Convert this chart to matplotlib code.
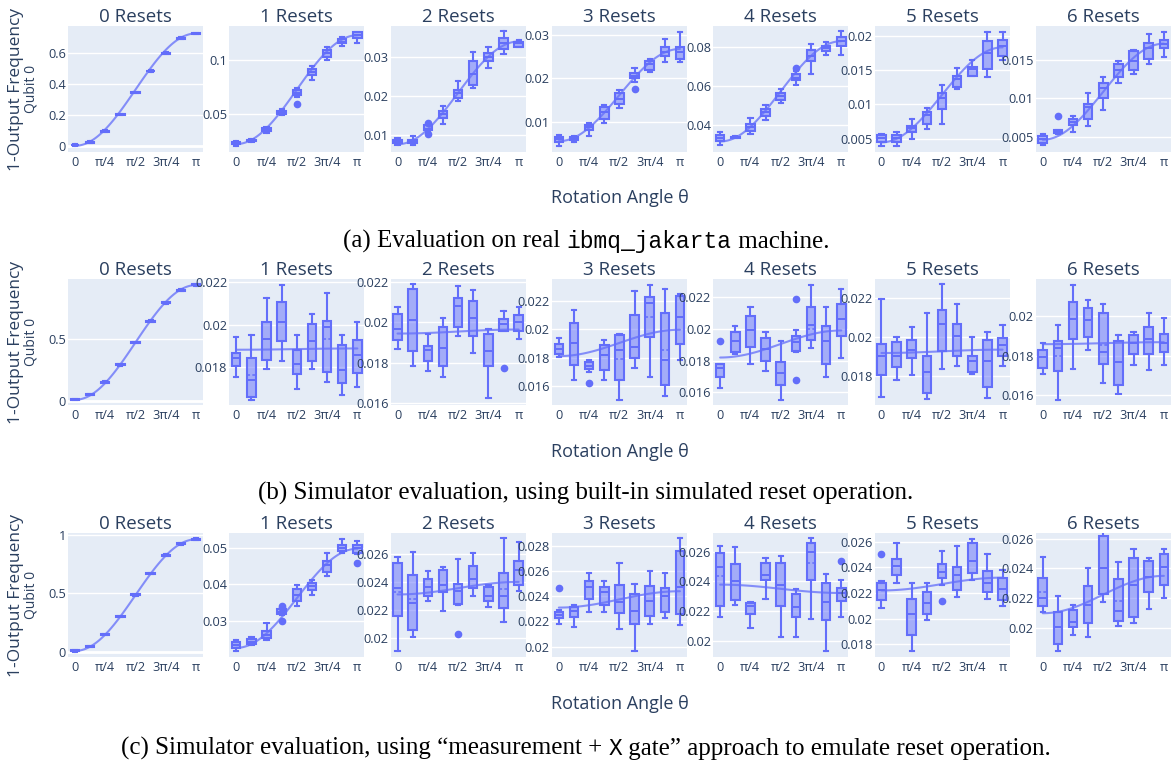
import numpy as np
import matplotlib
matplotlib.use("Agg")
import matplotlib.pyplot as plt

W, H = 1174, 764
BLUE = "#636efa"
INK = "#2a3f5f"
BG = "#e5ecf6"
FONT = "Open Sans"

ANGLES = np.arange(9) * np.pi / 8
XTICKS = [0, np.pi / 4, np.pi / 2, 3 * np.pi / 4, np.pi]
XTICK_LABELS = ["0", "π/4", "π/2", "3π/4", "π"]
RESETS = list(range(7))

# ---------------- (a) real ibmq_jakarta ----------------
A_MED = [[0.005, 0.024, 0.095, 0.202, 0.344, 0.484, 0.600, 0.697, 0.727],
         [0.0236, 0.0258, 0.0358, 0.0515, 0.0690, 0.0888, 0.1060, 0.1167, 0.1227],
         [0.0081, 0.0081, 0.0114, 0.0153, 0.0206, 0.0255, 0.0300, 0.0336, 0.0335],
         [0.0060, 0.0060, 0.0087, 0.0122, 0.0153, 0.0206, 0.0233, 0.0262, 0.0260],
         [0.0332, 0.0336, 0.0388, 0.0464, 0.0549, 0.0642, 0.0753, 0.0795, 0.0829],
         [0.0051, 0.0052, 0.0066, 0.0085, 0.0110, 0.0137, 0.0151, 0.0175, 0.0185],
         [0.0047, 0.0056, 0.0069, 0.0088, 0.0113, 0.0137, 0.0148, 0.0165, 0.0171]]
A_Q1 = [[0.003, 0.021, 0.092, 0.199, 0.341, 0.481, 0.597, 0.694, 0.724],
        [0.0225, 0.0250, 0.0345, 0.0500, 0.0675, 0.0864, 0.1024, 0.1150, 0.1197],
        [0.0077, 0.0077, 0.0111, 0.0142, 0.0195, 0.0229, 0.0289, 0.0320, 0.0327],
        [0.0054, 0.0057, 0.0080, 0.0107, 0.0140, 0.0201, 0.0220, 0.0252, 0.0244],
        [0.0315, 0.0333, 0.0371, 0.0444, 0.0529, 0.0629, 0.0727, 0.0778, 0.0803],
        [0.0046, 0.0046, 0.0060, 0.0072, 0.0094, 0.0126, 0.0142, 0.0151, 0.0171],
        [0.0042, 0.0055, 0.0065, 0.0073, 0.0100, 0.0128, 0.0137, 0.0151, 0.0165]]
A_Q3 = [[0.008, 0.027, 0.098, 0.205, 0.347, 0.487, 0.603, 0.700, 0.730],
        [0.0245, 0.0265, 0.0370, 0.0530, 0.0720, 0.0918, 0.1091, 0.1190, 0.1252],
        [0.0086, 0.0086, 0.0124, 0.0161, 0.0215, 0.0289, 0.0310, 0.0348, 0.0340],
        [0.0064, 0.0064, 0.0092, 0.0134, 0.0167, 0.0212, 0.0241, 0.0273, 0.0273],
        [0.0346, 0.0340, 0.0405, 0.0481, 0.0566, 0.0659, 0.0786, 0.0807, 0.0851],
        [0.0055, 0.0056, 0.0069, 0.0089, 0.0116, 0.0142, 0.0155, 0.0192, 0.0194],
        [0.0051, 0.0058, 0.0073, 0.0092, 0.0120, 0.0144, 0.0161, 0.0172, 0.0176]]
A_LO = [[0.001, 0.019, 0.090, 0.197, 0.339, 0.479, 0.595, 0.692, 0.722],
        [0.0210, 0.0245, 0.0330, 0.0490, 0.0660, 0.0812, 0.0994, 0.1130, 0.1152],
        [0.0072, 0.0074, 0.0106, 0.0128, 0.0187, 0.0221, 0.0272, 0.0308, 0.0325],
        [0.0045, 0.0054, 0.0067, 0.0098, 0.0131, 0.0191, 0.0214, 0.0237, 0.0238],
        [0.0295, 0.0331, 0.0354, 0.0427, 0.0512, 0.0605, 0.0664, 0.0761, 0.0761],
        [0.0040, 0.0040, 0.0050, 0.0065, 0.0072, 0.0123, 0.0141, 0.0140, 0.0165],
        [0.0039, 0.0054, 0.0056, 0.0064, 0.0085, 0.0120, 0.0132, 0.0144, 0.0154]]
A_HI = [[0.009, 0.029, 0.100, 0.207, 0.349, 0.489, 0.605, 0.702, 0.732],
        [0.0255, 0.0275, 0.0385, 0.0550, 0.0740, 0.0940, 0.1121, 0.1210, 0.1258],
        [0.0090, 0.0095, 0.0127, 0.0174, 0.0238, 0.0314, 0.0327, 0.0366, 0.0345],
        [0.0069, 0.0066, 0.0098, 0.0138, 0.0174, 0.0225, 0.0244, 0.0290, 0.0308],
        [0.0366, 0.0343, 0.0434, 0.0502, 0.0583, 0.0676, 0.0817, 0.0824, 0.0880],
        [0.0057, 0.0060, 0.0079, 0.0095, 0.0129, 0.0153, 0.0165, 0.0206, 0.0206],
        [0.0053, 0.0059, 0.0077, 0.0107, 0.0128, 0.0148, 0.0163, 0.0184, 0.0186]]
A_OUT = {1: {4: [0.0597]}, 2: {2: [0.0131, 0.0102]}, 3: {5: [0.0176]},
         4: {5: [0.0690]}, 6: {1: [0.0077]}}
A_MEAN = {}
A_FIT = [(0.0, 0.727), (0.0225, 0.1225), (0.0075, 0.0340), (0.0055, 0.0268),
         (0.0315, 0.0830), (0.0045, 0.0183), (0.0046, 0.0171)]

# ---------------- (b) simulator, built-in reset ----------------
B_MED = [[0.013, 0.053, 0.151, 0.293, 0.471, 0.644, 0.793, 0.894, 0.936],
         [0.01844, 0.01739, 0.01933, 0.02014, 0.01816, 0.01925, 0.01988, 0.01788, 0.01855],
         [0.01967, 0.02013, 0.01862, 0.01873, 0.02081, 0.02024, 0.01857, 0.01992, 0.02000],
         [0.01865, 0.01905, 0.01742, 0.01819, 0.01853, 0.01877, 0.02184, 0.01784, 0.02086],
         [0.01750, 0.01923, 0.01990, 0.01875, 0.01723, 0.01917, 0.02027, 0.01923, 0.02063],
         [0.01903, 0.01906, 0.01933, 0.01822, 0.02067, 0.02007, 0.01877, 0.01877, 0.01961],
         [0.01795, 0.01837, 0.01988, 0.01980, 0.01820, 0.01765, 0.01866, 0.01882, 0.01866]]
B_Q1 = [[0.009, 0.049, 0.147, 0.289, 0.467, 0.640, 0.789, 0.890, 0.932],
        [0.01804, 0.01658, 0.01835, 0.01925, 0.01767, 0.01829, 0.01777, 0.01723, 0.01773],
        [0.01915, 0.01857, 0.01808, 0.01785, 0.01980, 0.01932, 0.01785, 0.01959, 0.01959],
        [0.01826, 0.01749, 0.01719, 0.01714, 0.01644, 0.01802, 0.01947, 0.01609, 0.01900],
        [0.01698, 0.01854, 0.01885, 0.01800, 0.01646, 0.01860, 0.01927, 0.01781, 0.01952],
        [0.01805, 0.01849, 0.01894, 0.01714, 0.01928, 0.01906, 0.01822, 0.01748, 0.01903],
        [0.01736, 0.01719, 0.01882, 0.01896, 0.01758, 0.01652, 0.01808, 0.01808, 0.01820]]
B_Q3 = [[0.017, 0.057, 0.155, 0.297, 0.475, 0.648, 0.797, 0.898, 0.940],
        [0.01868, 0.01843, 0.02011, 0.02109, 0.01883, 0.02003, 0.02019, 0.01902, 0.01928],
        [0.02040, 0.02166, 0.01883, 0.01980, 0.02122, 0.02106, 0.01943, 0.02016, 0.02036],
        [0.01895, 0.02044, 0.01772, 0.01888, 0.01958, 0.02105, 0.02230, 0.02114, 0.02237],
        [0.01781, 0.01979, 0.02083, 0.01944, 0.01792, 0.01952, 0.02135, 0.02015, 0.02160],
        [0.01966, 0.01973, 0.01983, 0.01906, 0.02138, 0.02067, 0.01906, 0.01987, 0.01995],
        [0.01829, 0.01876, 0.02072, 0.02044, 0.02017, 0.01876, 0.01904, 0.01943, 0.01909]]
B_LO = [[0.006, 0.046, 0.144, 0.286, 0.464, 0.637, 0.786, 0.887, 0.929],
        [0.01754, 0.01645, 0.01793, 0.01827, 0.01695, 0.01793, 0.01731, 0.01668, 0.01707],
        [0.01870, 0.01785, 0.01759, 0.01727, 0.01935, 0.01846, 0.01626, 0.01959, 0.01919],
        [0.01807, 0.01640, 0.01702, 0.01644, 0.01505, 0.01726, 0.01663, 0.01528, 0.01788],
        [0.01625, 0.01844, 0.01781, 0.01735, 0.01552, 0.01855, 0.01881, 0.01698, 0.01813],
        [0.01697, 0.01782, 0.01805, 0.01684, 0.01839, 0.01852, 0.01810, 0.01692, 0.01852],
        [0.01708, 0.01576, 0.01731, 0.01829, 0.01660, 0.01602, 0.01753, 0.01724, 0.01753]]
B_HI = [[0.020, 0.060, 0.158, 0.300, 0.478, 0.651, 0.800, 0.901, 0.943],
        [0.01941, 0.01952, 0.02125, 0.02187, 0.01952, 0.02053, 0.02151, 0.01952, 0.02014],
        [0.02078, 0.02192, 0.01943, 0.02020, 0.02179, 0.02163, 0.01967, 0.02057, 0.02078],
        [0.01942, 0.02137, 0.01784, 0.01928, 0.01970, 0.02272, 0.02314, 0.02284, 0.02249],
        [0.01781, 0.02015, 0.02140, 0.01979, 0.01923, 0.01990, 0.02277, 0.02140, 0.02250],
        [0.02192, 0.02000, 0.02050, 0.02124, 0.02269, 0.02171, 0.02000, 0.02024, 0.02062],
        [0.01866, 0.01955, 0.02161, 0.02084, 0.02064, 0.01904, 0.01921, 0.02017, 0.01993]]
B_OUT = {2: {7: [0.01776]}, 3: {2: [0.01621]}, 4: {0: [0.01923], 5: [0.02188, 0.01677]}}
B_MEAN = {1: {1: 0.01762, 6: 0.01933}, 3: {4: 0.01795, 6: 0.02086, 7: 0.01853},
          4: {6: 0.0200}, 6: {1: 0.01798, 4: 0.01854}}
B_FIT = [(0.010, 0.935), (0.01882, 0.01888), (0.01945, 0.01965), (0.01812, 0.01998),
         (0.01819, 0.01990), (0.01919, 0.01936), (0.01858, 0.01868)]

# ---------------- (c) simulator, measurement + X gate ----------------
C_MED = [[0.006, 0.042, 0.147, 0.300, 0.486, 0.667, 0.825, 0.922, 0.961],
         [0.0233, 0.0242, 0.0261, 0.0324, 0.0371, 0.0395, 0.0451, 0.0500, 0.0498],
         [0.02353, 0.02251, 0.02360, 0.02377, 0.02337, 0.02423, 0.02302, 0.02302, 0.02484],
         [0.02250, 0.02281, 0.02477, 0.02431, 0.02354, 0.02281, 0.02366, 0.02400, 0.02470],
         [0.02498, 0.02400, 0.02233, 0.02443, 0.02378, 0.02226, 0.02596, 0.02259, 0.02324],
         [0.02220, 0.02408, 0.02035, 0.02124, 0.02365, 0.02339, 0.02453, 0.02276, 0.02230],
         [0.02200, 0.02011, 0.02039, 0.02157, 0.02402, 0.02113, 0.02287, 0.02343, 0.02409]]
C_Q1 = [[0.002, 0.038, 0.143, 0.296, 0.482, 0.663, 0.821, 0.918, 0.957],
        [0.0224, 0.0235, 0.0251, 0.0317, 0.0353, 0.0384, 0.0433, 0.0491, 0.0486],
        [0.02157, 0.02057, 0.02302, 0.02325, 0.02244, 0.02353, 0.02260, 0.02213, 0.02377],
        [0.02225, 0.02237, 0.02379, 0.02333, 0.02263, 0.02178, 0.02245, 0.02271, 0.02255],
        [0.02233, 0.02276, 0.02183, 0.02407, 0.02237, 0.02161, 0.02411, 0.02139, 0.02270],
        [0.02149, 0.02339, 0.01876, 0.02035, 0.02314, 0.02220, 0.02357, 0.02205, 0.02149],
        [0.02148, 0.01891, 0.02011, 0.02033, 0.02228, 0.02048, 0.02076, 0.02243, 0.02287]]
C_Q3 = [[0.010, 0.046, 0.151, 0.304, 0.490, 0.671, 0.829, 0.926, 0.965],
        [0.0240, 0.0249, 0.0270, 0.0331, 0.0386, 0.0404, 0.0464, 0.0508, 0.0508],
        [0.02535, 0.02447, 0.02419, 0.02484, 0.02384, 0.02512, 0.02360, 0.02461, 0.02554],
        [0.02271, 0.02315, 0.02521, 0.02470, 0.02488, 0.02418, 0.02483, 0.02462, 0.02761],
        [0.02589, 0.02515, 0.02254, 0.02524, 0.02520, 0.02313, 0.02654, 0.02389, 0.02357],
        [0.02281, 0.02466, 0.02154, 0.02205, 0.02423, 0.02403, 0.02592, 0.02372, 0.02314],
        [0.02337, 0.02109, 0.02120, 0.02283, 0.02617, 0.02330, 0.02467, 0.02452, 0.02496]]
C_LO = [[0.000, 0.035, 0.140, 0.293, 0.479, 0.660, 0.818, 0.915, 0.954],
        [0.0217, 0.0233, 0.0246, 0.0315, 0.0341, 0.0371, 0.0421, 0.0484, 0.0482],
        [0.01905, 0.02003, 0.02260, 0.02190, 0.02237, 0.02297, 0.02220, 0.02111, 0.02337],
        [0.02178, 0.02152, 0.02271, 0.02276, 0.02142, 0.01966, 0.02178, 0.02230, 0.02168],
        [0.02161, 0.02241, 0.02089, 0.02280, 0.02030, 0.02030, 0.02150, 0.01933, 0.02161],
        [0.02086, 0.02281, 0.01749, 0.01992, 0.02263, 0.02170, 0.02301, 0.02154, 0.02099],
        [0.02109, 0.01848, 0.01952, 0.01939, 0.02174, 0.02017, 0.02033, 0.02126, 0.02200]]
C_HI = [[0.013, 0.049, 0.154, 0.307, 0.493, 0.674, 0.832, 0.929, 0.968],
        [0.0246, 0.0255, 0.0293, 0.0333, 0.0397, 0.0411, 0.0486, 0.0524, 0.0517],
        [0.02582, 0.02617, 0.02477, 0.02507, 0.02563, 0.02605, 0.02377, 0.02717, 0.02687],
        [0.02289, 0.02333, 0.02586, 0.02521, 0.02668, 0.02495, 0.02599, 0.02586, 0.02865],
        [0.02639, 0.02628, 0.02263, 0.02559, 0.02567, 0.02350, 0.02689, 0.02450, 0.02411],
        [0.02296, 0.02592, 0.02276, 0.02276, 0.02529, 0.02567, 0.02625, 0.02504, 0.02377],
        [0.02474, 0.02217, 0.02152, 0.02402, 0.02704, 0.02446, 0.02533, 0.02467, 0.02533]]
C_OUT = {1: {3: [0.0341, 0.0335, 0.0300], 8: [0.0457]}, 2: {4: [0.02022]},
         3: {0: [0.02462]}, 4: {8: [0.02537]}, 5: {0: [0.02504], 4: [0.02137]}}
C_MEAN = {2: {0: 0.02325, 1: 0.0228, 7: 0.02349}, 4: {0: 0.02433, 6: 0.02524},
          6: {0: 0.02243, 5: 0.02185}}
C_FIT = [(0.005, 0.960), (0.0225, 0.0497), (0.0231, 0.0240), (0.0231, 0.0244),
         (0.02378, 0.02322), (0.0222, 0.0232), (0.0210, 0.0235)]

# axis ranges / ticks per panel
A_YLIM = [(-0.04, 0.775), (0.0152, 0.131), (0.0055, 0.038), (0.0030, 0.0321),
          (0.0261, 0.0908), (0.0031, 0.0214), (0.0030, 0.0194)]
A_YTICKS = [[0, 0.2, 0.4, 0.6], [0.05, 0.1], [0.01, 0.02, 0.03], [0.01, 0.02, 0.03],
            [0.04, 0.06, 0.08], [0.005, 0.01, 0.015, 0.02], [0.005, 0.01, 0.015]]
B_YLIM = [(-0.032, 0.984), (0.01621, 0.02216), (0.01590, 0.02216), (0.01467, 0.02356),
          (0.01519, 0.02315), (0.01654, 0.02296), (0.01548, 0.0219)]
B_YTICKS = [[0, 0.5], [0.018, 0.02, 0.022], [0.016, 0.018, 0.02, 0.022],
            [0.016, 0.018, 0.02, 0.022], [0.016, 0.018, 0.02, 0.022],
            [0.018, 0.02, 0.022], [0.016, 0.018, 0.02]]
C_YLIM = [(-0.047, 1.014), (0.020, 0.054), (0.0186, 0.02752), (0.01917, 0.02903),
          (0.01893, 0.02724), (0.01701, 0.02668), (0.01807, 0.02637)]
C_YTICKS = [[0, 0.5, 1], [0.03, 0.04, 0.05], [0.02, 0.022, 0.024, 0.026],
            [0.02, 0.022, 0.024, 0.026, 0.028], [0.02, 0.022, 0.024, 0.026],
            [0.018, 0.02, 0.022, 0.024, 0.026], [0.02, 0.022, 0.024, 0.026]]

ROWS = [
    dict(med=A_MED, q1=A_Q1, q3=A_Q3, lo=A_LO, hi=A_HI, out=A_OUT, mean=A_MEAN, fit=A_FIT,
         ylim=A_YLIM, yticks=A_YTICKS, top=26, bot=152),
    dict(med=B_MED, q1=B_Q1, q3=B_Q3, lo=B_LO, hi=B_HI, out=B_OUT, mean=B_MEAN, fit=B_FIT,
         ylim=B_YLIM, yticks=B_YTICKS, top=279, bot=405),
    dict(med=C_MED, q1=C_Q1, q3=C_Q3, lo=C_LO, hi=C_HI, out=C_OUT, mean=C_MEAN, fit=C_FIT,
         ylim=C_YLIM, yticks=C_YTICKS, top=533, bot=657),
]
CAPTIONS = [
    [("(a) Evaluation on real ", "serif"), ("ibmq_jakarta", "mono"), (" machine.", "serif")],
    [("(b) Simulator evaluation, using built-in simulated reset operation.", "serif")],
    [("(c) Simulator evaluation, using \u201cmeasurement + ", "serif"), ("X", "mono"),
     (" gate\u201d approach to emulate reset operation.", "serif")],
]
CAPTION_Y = [239, 491, 746]
XLABEL_Y = [198, 452, 704]

PANEL_X0, PANEL_STEP, PANEL_W = 68, 161.3, 135
FAMILIES = {"serif": "Liberation Serif", "mono": "Liberation Mono"}
CAPTION_SIZE = {"serif": 18, "mono": 16.5}


def fx(px):
    return px / W


def fy(px):
    return 1 - px / H


def fmt(v):
    return f"{v:g}"


def draw_panel(ax, row, p):
    stats = []
    out = row["out"].get(p, {})
    means = row["mean"].get(p, {})
    for k in range(9):
        stats.append(dict(whislo=row["lo"][p][k], q1=row["q1"][p][k], med=row["med"][p][k],
                          q3=row["q3"][p][k], whishi=row["hi"][p][k],
                          mean=means.get(k, row["med"][p][k]), fliers=out.get(k, [])))
    ax.set_facecolor(BG)
    ax.bxp(stats, positions=ANGLES, widths=0.22, capwidths=0.11, patch_artist=True,
           showmeans=True, meanline=True, showfliers=True, manage_ticks=False,
           boxprops=dict(facecolor=(0.388, 0.431, 0.98, 0.5), edgecolor=BLUE, linewidth=1.5),
           whiskerprops=dict(color=BLUE, linewidth=1.5),
           capprops=dict(color=BLUE, linewidth=1.5),
           medianprops=dict(color=BLUE, linewidth=1.4),
           meanprops=dict(color=BLUE, linewidth=1.1, linestyle=(0, (2, 1.5))),
           flierprops=dict(marker="o", markersize=4.5, markerfacecolor=BLUE,
                           markeredgecolor=BLUE))
    th = np.linspace(0, np.pi, 120)
    y0, y1 = row["fit"][p]
    ax.plot(th, y0 + (y1 - y0) * (1 - np.cos(th)) / 2, color=BLUE, lw=1.5, alpha=0.75,
            zorder=4, solid_capstyle="round")

    ax.set_xlim(-0.18, np.pi + 0.18)
    ax.set_ylim(*row["ylim"][p])
    ax.set_xticks(XTICKS)
    ax.set_xticklabels(XTICK_LABELS)
    ax.set_yticks(row["yticks"][p])
    ax.set_yticklabels([fmt(v) for v in row["yticks"][p]])
    ax.grid(axis="y", color="white", lw=1.0)
    ax.set_axisbelow(True)
    if row["ylim"][p][0] < 0:
        ax.axhline(0, color="white", lw=2.0, zorder=0.6)
    for sp in ax.spines.values():
        sp.set_visible(False)
    ax.tick_params(length=0, labelsize=9.2, labelcolor=INK)
    ax.tick_params(axis="x", pad=3)
    ax.tick_params(axis="y", pad=1.5)
    for lab in ax.get_xticklabels() + ax.get_yticklabels():
        lab.set_fontfamily(FONT)
    ax.set_title(f"{RESETS[p]} Resets", fontsize=13.5, color=INK, family=FONT, pad=3)


def caption(fig, segments, y):
    r = fig.canvas.get_renderer()
    texts, widths = [], []
    for s, fam in segments:
        t = fig.text(0, fy(y), s, family=FAMILIES[fam], fontsize=CAPTION_SIZE[fam],
                     color="black", va="center_baseline", ha="left")
        widths.append(t.get_window_extent(r).width)
        texts.append(t)
    x = 586 - sum(widths) / 2
    for t, w in zip(texts, widths):
        t.set_x(fx(x))
        x += w


fig = plt.figure(figsize=(W / 100, H / 100), dpi=100)
fig.patch.set_facecolor("white")
for ri, row in enumerate(ROWS):
    h = row["bot"] - row["top"]
    for p in range(7):
        left = PANEL_X0 + PANEL_STEP * p
        ax = fig.add_axes([fx(left), fy(row["bot"]), PANEL_W / W, h / H])
        draw_panel(ax, row, p)
    mid = (row["top"] + row["bot"]) / 2
    fig.text(fx(16), fy(mid), "1-Output Frequency", rotation=90, ha="center", va="center",
             fontsize=12.5, color=INK, family=FONT)
    fig.text(fx(31), fy(mid), "Qubit 0", rotation=90, ha="center", va="center",
             fontsize=10, color=INK, family=FONT)
    fig.text(fx(620), fy(XLABEL_Y[ri]), "Rotation Angle θ", ha="center", va="center",
             fontsize=13, color=INK, family=FONT)
    caption(fig, CAPTIONS[ri], CAPTION_Y[ri])

fig.savefig("out.png", dpi=100, facecolor="white")
